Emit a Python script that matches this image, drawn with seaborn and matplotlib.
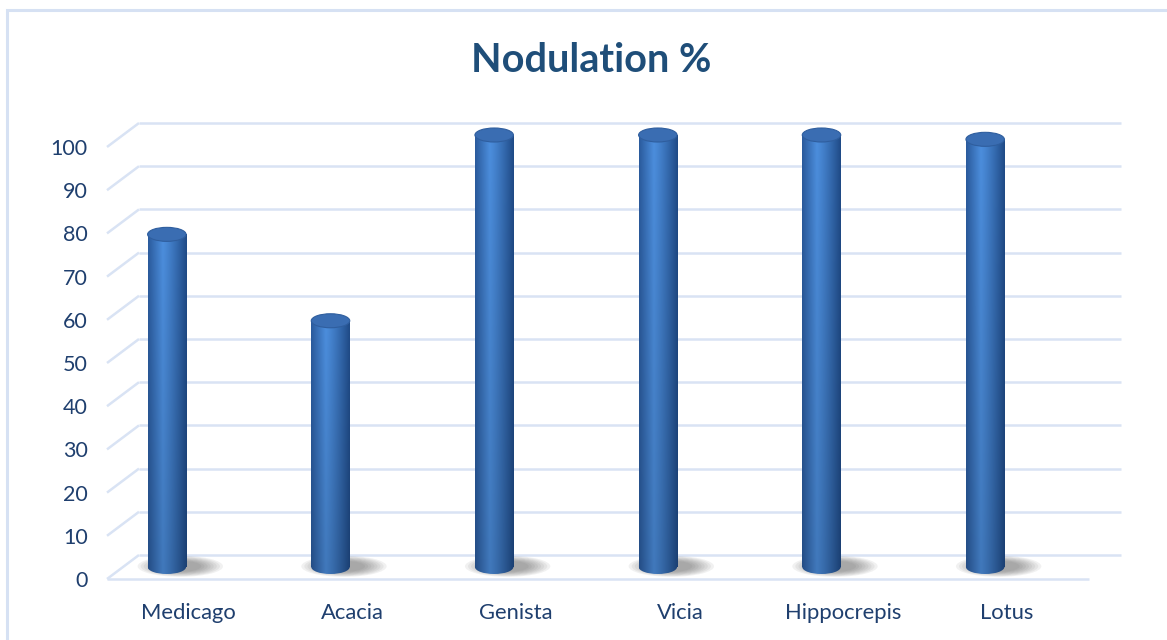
import numpy as np
import pandas as pd
import matplotlib
matplotlib.use("Agg")
import matplotlib.pyplot as plt
import matplotlib.transforms as mtransforms
from matplotlib.patches import Ellipse, Rectangle
from matplotlib.colors import to_rgb
import seaborn as sns

# ---- data -------------------------------------------------------------
genera = ["Medicago", "Acacia", "Genista", "Vicia", "Hippocrepis", "Lotus"]
nodulation = [77, 57, 100, 100, 100, 99]
y_ticks = [0, 10, 20, 30, 40, 50, 60, 70, 80, 90, 100]

# ---- figure -------------------------------------------------------------
W, H = 1167, 640
DPI = 100
sns.set_theme(style="white")
plt.rcParams["font.family"] = ["Lato", "DejaVu Sans"]

fig = plt.figure(figsize=(W / DPI, H / DPI), dpi=DPI)
fig.patch.set_facecolor("white")

# outer chart border (only top and left edges fall inside the canvas)
fig.add_artist(Rectangle((7 / W, -0.05), 1.2, (H - 10) / H + 0.05,
                         transform=fig.transFigure, fill=False,
                         edgecolor="#D6E1F3", lw=2.2))

# front plane of the plot area
L, R, B, T = 107, 1089, 579, 147
ax = fig.add_axes([L / W, (H - B) / H, (R - L) / W, (B - T) / H])

df = pd.DataFrame({"genus": genera, "pct": nodulation})
sns.barplot(data=df, x="genus", y="pct", width=0.235, color="#3570B8",
            saturation=1, ax=ax, zorder=4)

ax.set_xlim(-0.5, len(genera) - 0.5)
ax.set_ylim(0, 100)
for s in ax.spines.values():
    s.set_visible(False)
ax.set_facecolor("none")
ax.set_xlabel("")
ax.set_ylabel("")
ax.set_yticks(y_ticks)
ax.set_yticklabels([str(v) for v in y_ticks])
ax.tick_params(axis="y", length=0, pad=14, labelsize=15.5, labelcolor="#1F3F6E")
ax.tick_params(axis="x", length=0, pad=17, labelsize=15.8, labelcolor="#1F3F6E")

def shift(dx, dy):
    return mtransforms.ScaledTranslation(dx / DPI, dy / DPI, fig.dpi_scale_trans)

back_tr = ax.transData + shift(32, 24)   # back wall
bar_tr = ax.transData + shift(-22, 12)   # plane holding the cylinders

# back wall gridlines + left wall diagonals
grid_c = "#D9E3F4"
x_units = (R - L) / len(genera)
y_units = (B - T) / 100.0
for v in y_ticks:
    ax.plot([-0.5, len(genera) - 0.5], [v, v], transform=back_tr, color=grid_c,
            lw=1.8, clip_on=False, zorder=1, solid_capstyle="butt")
    ax.plot([-0.5, -0.5 + 32 / x_units], [v, v + 24 / y_units], color=grid_c,
            lw=1.8, clip_on=False, zorder=1, solid_capstyle="butt")
# front edge of the floor
ax.plot([-0.5, len(genera) - 0.5], [0, 0], color=grid_c, lw=1.8, clip_on=False,
        zorder=1, solid_capstyle="butt")

# cylinder shading
c_edge_l = np.array(to_rgb("#2A5A9C"))
c_high = np.array(to_rgb("#4C8EDD"))
c_edge_r = np.array(to_rgb("#1F4A86"))
xs = np.linspace(0, 1, 256)
row = np.empty((256, 3))
for i, t in enumerate(xs):
    if t < 0.38:
        f = t / 0.38
        row[i] = c_edge_l * (1 - f) + c_high * f
    else:
        f = (t - 0.38) / 0.62
        row[i] = c_high * (1 - f ** 1.2) + c_edge_r * f ** 1.2
cap_h = 14 / y_units

for patch in list(ax.patches):
    x0 = patch.get_x()
    w = patch.get_width()
    h = patch.get_height()
    xc = x0 + w / 2
    patch.set_transform(bar_tr)
    patch.set_edgecolor("none")

    # floor shadow
    for k in range(8):
        sh = Ellipse((xc + w * 0.35, cap_h * 0.05), w * (1.1 + 0.16 * k),
                     cap_h * (0.8 + 0.1 * k), transform=bar_tr,
                     facecolor="#4A4A4A", edgecolor="none", alpha=0.075,
                     zorder=2, clip_on=False)
        ax.add_patch(sh)

    # body gradient, darker toward the floor
    n = 120
    vert = np.linspace(0.85, 1.0, n)[:, None, None]
    img = row[None, :, :] * vert
    im = ax.imshow(img, extent=[x0, x0 + w, 0, h], origin="lower",
                   aspect="auto", transform=bar_tr, zorder=5,
                   interpolation="bilinear")
    im.set_clip_path(patch)

    # rounded base
    base = Ellipse((xc, 0), w, cap_h, transform=bar_tr, facecolor="none",
                   edgecolor="none", zorder=4, clip_on=False)
    ax.add_patch(base)
    im2 = ax.imshow(row[None, :, :] * 0.85, extent=[x0, x0 + w, -cap_h, 0],
                    origin="lower", aspect="auto", transform=bar_tr, zorder=5,
                    interpolation="bilinear")
    im2.set_clip_path(base)
    im2.set_clip_on(True)

    # top cap
    top = Ellipse((xc, h), w, cap_h, transform=bar_tr, facecolor="#3A6DB2",
                  edgecolor="#2F5E9E", lw=0.8, zorder=6, clip_on=False)
    ax.add_patch(top)

ax.set_xlim(-0.5, len(genera) - 0.5)
ax.set_ylim(0, 100)

fig.text(591 / W, 1 - 60 / H, "Nodulation %", ha="center", va="center",
         fontsize=28.5, fontweight="bold", color="#1F4E79")

fig.savefig("out.png", dpi=DPI)
